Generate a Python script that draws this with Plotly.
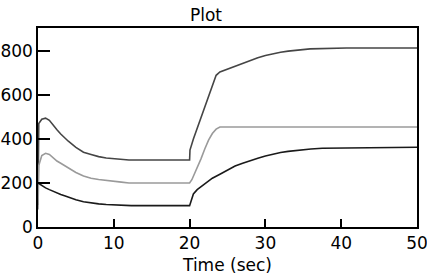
import plotly.graph_objects as go

# ---- data ----
top_t = [0, 0.1, 0.5, 1.0, 1.5, 2.0, 2.5, 3.0, 3.5, 4.0, 5.0, 6.0, 7.0, 8.0, 9.0, 10.0, 11.0, 12.0,
         20.0, 20.05, 20.5, 21.0, 21.5, 22.0, 22.5, 23.0, 23.5, 24.0, 25, 26, 27, 28, 29, 30, 31, 32,
         33, 34, 35, 35.9, 40.7, 50]
top_v = [100, 470, 490, 495, 485, 462, 442, 423, 405, 390, 362, 340, 330, 320, 314, 310, 308, 305,
         305, 350, 400, 450, 500, 550, 600, 650, 690, 705, 718, 730, 745, 759, 770, 780, 788, 795,
         800, 804, 806, 810, 814, 814]

mid_t = [0, 0.1, 0.5, 1.0, 1.5, 2.0, 2.5, 3.0, 4.0, 5.0, 6.0, 7.0, 8.0, 9.0, 10.0, 11.0, 12.0,
         20.0, 20.3, 20.7, 21.0, 21.5, 22.0, 22.5, 23.0, 23.5, 24.0, 50]
mid_v = [80, 280, 325, 335, 330, 315, 300, 290, 268, 248, 232, 222, 216, 211, 207, 204, 200,
         200, 215, 245, 270, 310, 355, 395, 425, 445, 455, 455]

bot_t = [0, 0.5, 1.0, 1.5, 2.0, 2.5, 3.0, 3.5, 4.0, 5.0, 6.0, 7.0, 8.0, 9.0, 10.0, 12.3,
         20.0, 20.2, 20.5, 21.0, 21.5, 22.0, 23.0, 24.0, 25.0, 26.0, 27.0, 28.0, 29.0, 30.0,
         31.0, 32.0, 33.0, 34.0, 35.0, 36.0, 37.5, 46.5, 50]
bot_v = [200, 188, 178, 170, 162, 155, 148, 142, 135, 124, 115, 109, 105, 102, 100, 97,
         97, 120, 150, 170, 183, 197, 222, 240, 260, 277, 290, 303, 313, 323,
         332, 339, 344, 348, 352, 355, 358, 363, 363]

x_ticks = [0, 10, 20, 30, 40, 50]
y_ticks = [0, 200, 400, 600, 800]

FONT = "DejaVu Sans, sans-serif"

fig = go.Figure()
fig.add_trace(go.Scatter(x=top_t, y=top_v, mode="lines", line=dict(color="#454545", width=1.6), showlegend=False))
fig.add_trace(go.Scatter(x=mid_t, y=mid_v, mode="lines", line=dict(color="#9a9a9a", width=1.6), showlegend=False))
fig.add_trace(go.Scatter(x=bot_t, y=bot_v, mode="lines", line=dict(color="#1a1a1a", width=1.6), showlegend=False))

fig.update_layout(
    width=427, height=280,
    margin=dict(l=38, r=10, t=28, b=53, autoexpand=False),
    paper_bgcolor="white", plot_bgcolor="white",
    font=dict(family=FONT, size=17, color="black"),
    title=dict(text="Plot", x=206/427, xanchor="center", xref="container",
               y=1-15/280, yref="container", yanchor="middle",
               font=dict(family=FONT, size=17, color="black")),
    xaxis=dict(range=[0, 50], tickvals=x_ticks, ticktext=[str(v) for v in x_ticks],
               ticks="inside", ticklen=8, tickwidth=1.5, tickcolor="black",
               showline=True, linecolor="black", linewidth=1.5, mirror=True,
               showgrid=False, zeroline=False, automargin=False,
               ticklabeloverflow="allow",
               title=dict(text="Time (sec)", standoff=7, font=dict(family=FONT, size=17)),
               tickfont=dict(family=FONT, size=17)),
    yaxis=dict(range=[0, 905], tickvals=y_ticks, ticktext=[str(v) for v in y_ticks],
               ticks="inside", ticklen=12, tickwidth=1.5, tickcolor="black",
               showline=True, linecolor="black", linewidth=1.5, mirror=True,
               showgrid=False, zeroline=False, automargin=False,
               ticklabeloverflow="allow",
               tickfont=dict(family=FONT, size=17)),
)

fig.write_html("out.html", config={"displayModeBar": False},
               post_script="document.body.style.margin='0';document.body.style.padding='0';")
